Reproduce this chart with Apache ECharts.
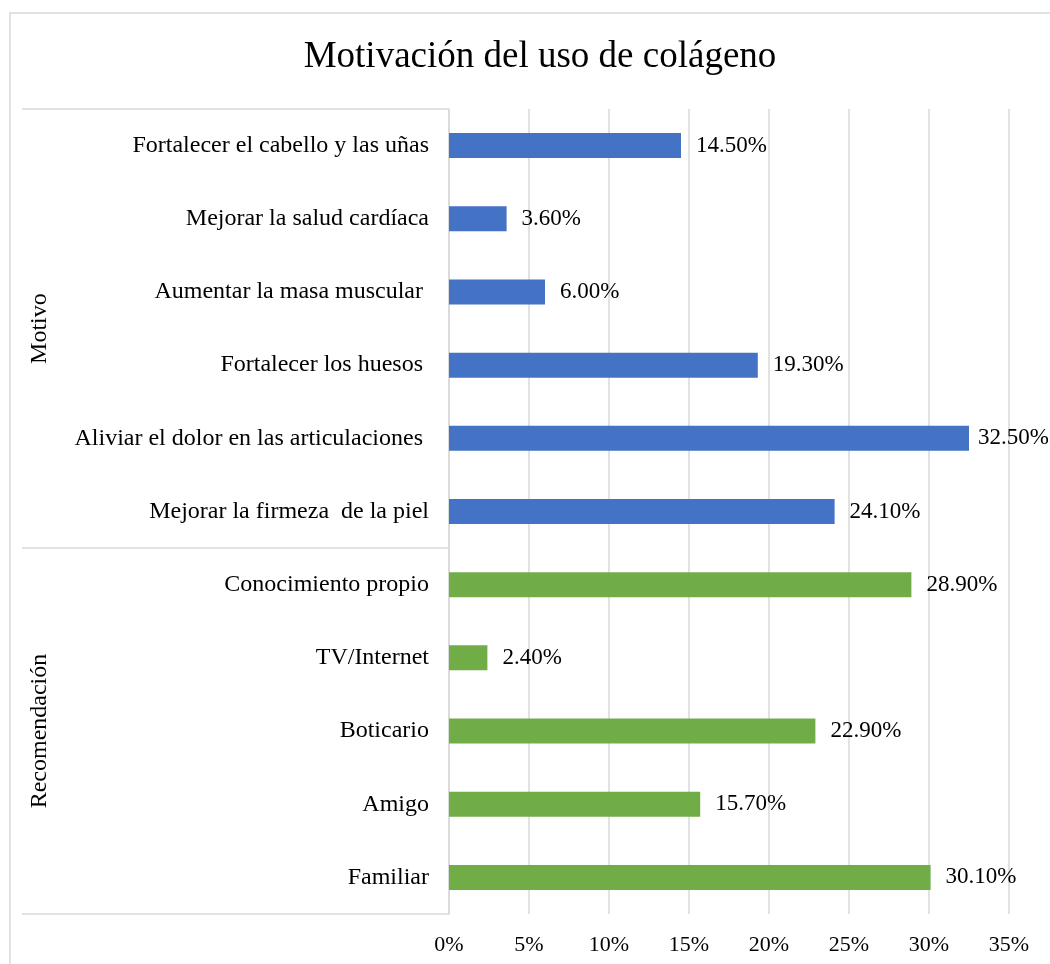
<!DOCTYPE html>
<html>
<head>
<meta charset="utf-8">
<script src="https://cdn.jsdelivr.net/npm/echarts@6/dist/echarts.min.js"></script>
<style>
  html, body { margin: 0; padding: 0; background: #fff; }
  #chart { width: 1050px; height: 964px; }
</style>
</head>
<body>
<div id="chart"></div>
<script>
// categorias de arriba hacia abajo
const motivoCats = [
  'Fortalecer el cabello y las uñas',
  'Mejorar la salud cardíaca',
  'Aumentar la masa muscular ',
  'Fortalecer los huesos ',
  'Aliviar el dolor en las articulaciones ',
  'Mejorar la firmeza  de la piel'
]
const motivoVals = [14.5, 3.6, 6.0, 19.3, 32.5, 24.1]
const recomCats = ['Conocimiento propio', 'TV/Internet', 'Boticario', 'Amigo', 'Familiar']
const recomVals = [28.9, 2.4, 22.9, 15.7, 30.1]
const groupNames = ['Motivo', 'Recomendación']
const xTicks = [0, 5, 10, 15, 20, 25, 30, 35]

const FONT = 'Liberation Serif'
const categories = motivoCats.concat(recomCats)
const total = categories.length
// series rellenadas con '-' para que cada grupo tenga su color
const blueData = motivoVals.concat(recomCats.map(() => '-'))
const greenData = motivoCats.map(() => '-').concat(recomVals)

// limites y centros de los grupos en unidades de categoria
const groupBounds = [0, motivoCats.length, total]
const groupCenters = [motivoCats.length / 2, motivoCats.length + recomCats.length / 2]

const chart = echarts.init(document.getElementById('chart'))

const labelStyle = {
  show: true,
  position: 'right',
  distance: 15,
  color: '#000',
  fontFamily: FONT,
  fontSize: 23,
  formatter: p => p.value.toFixed(2) + '%'
}

const option = {
  animation: false,
  backgroundColor: '#fff',
  title: {
    text: 'Motivación del uso de colágeno',
    left: 535,
    textAlign: 'center',
    top: 34,
    textStyle: { fontFamily: FONT, fontSize: 37, fontWeight: 'normal', color: '#000' }
  },
  graphic: [{
    type: 'rect',
    shape: { x: 10, y: 13, width: 1100, height: 1000 },
    style: { fill: 'none', stroke: '#d9d9d9', lineWidth: 1.5 },
    silent: true
  }],
  grid: { left: 449, right: 41, top: 109, bottom: 50 },
  xAxis: {
    type: 'value',
    min: xTicks[0],
    max: xTicks[xTicks.length - 1],
    interval: 5,
    axisLine: { show: false },
    axisTick: { show: false },
    splitLine: { lineStyle: { color: '#d9d9d9', width: 1.5 } },
    axisLabel: {
      margin: 20,
      color: '#000',
      fontFamily: FONT,
      fontSize: 22,
      formatter: '{value}%'
    }
  },
  yAxis: [{
    type: 'category',
    data: categories,
    inverse: true,
    axisLine: { lineStyle: { color: '#d9d9d9', width: 1.5 } },
    axisTick: { show: false },
    axisLabel: {
      interval: 0,
      margin: 20,
      color: '#000',
      fontFamily: FONT,
      fontSize: 24
    }
  }, {
    // eje auxiliar para las etiquetas de grupo y las lineas separadoras
    type: 'value',
    min: 0,
    max: total,
    inverse: true,
    position: 'left',
    axisLine: { show: false },
    splitLine: { show: false },
    axisTick: {
      show: true,
      customValues: groupBounds,
      length: 427,
      lineStyle: { color: '#d9d9d9', width: 1.5 }
    },
    axisLabel: {
      show: true,
      customValues: groupCenters,
      rotate: 90,
      margin: 397,
      color: '#000',
      fontFamily: FONT,
      fontSize: 24,
      formatter: v => groupNames[groupCenters.indexOf(v)] || ''
    }
  }],
  series: [{
    name: 'Motivo',
    type: 'bar',
    stack: 'total',
    yAxisIndex: 0,
    barWidth: 25,
    itemStyle: { color: '#4472c4' },
    label: labelStyle,
    data: blueData
  }, {
    name: 'Recomendación',
    type: 'bar',
    stack: 'total',
    yAxisIndex: 0,
    barWidth: 25,
    itemStyle: { color: '#70ad47' },
    label: labelStyle,
    data: greenData
  }],
  // como en Excel, la etiqueta que no cabe se corre hacia dentro
  labelLayout: function (params) {
    const r = params.labelRect
    const maxX = chart.getWidth() - r.width - 1
    if (r.x <= maxX) return {}
    return { x: maxX, y: r.y, align: 'left', verticalAlign: 'top' }
  }
}

chart.setOption(option)
window.addEventListener('resize', function () {
  chart.resize()
})
</script>
</body>
</html>
